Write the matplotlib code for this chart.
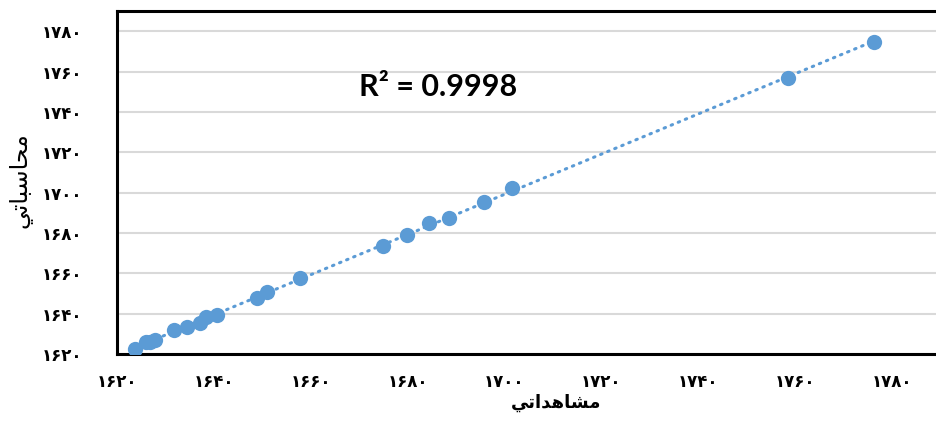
import numpy as np
import matplotlib
matplotlib.use("Agg")
import matplotlib.pyplot as plt
from matplotlib.ticker import FuncFormatter

# مقادیر مشاهداتی و محاسباتی (خوانده شده از نمودار)
observed = [1623.7, 1625.9, 1626.8, 1627.9, 1631.8, 1634.4, 1637.1, 1638.4,
            1640.6, 1648.9, 1650.9, 1657.8, 1674.9, 1680.0, 1684.5, 1688.5,
            1695.8, 1701.6, 1758.7, 1776.3]
computed = [1622.6, 1625.7, 1626.0, 1626.8, 1631.8, 1633.6, 1635.6, 1638.5,
            1639.3, 1647.6, 1650.6, 1657.7, 1673.4, 1679.2, 1684.7, 1687.5,
            1695.2, 1702.1, 1757.0, 1774.5]
tick_values = list(range(1620, 1781, 20))
x_label = "مشاهداتي"
y_label = "محاسباتي"
r2_label = "R² = 0.9998"

BLUE = "#5B9BD5"
FA_DIGITS = "۰۱۲۳۴۵۶۷۸۹"

# presentation forms: (isolated, final, initial, medial)
FORMS = {
    "ا": ("\uFE8D", "\uFE8E", None, None),
    "ب": ("\uFE8F", "\uFE90", "\uFE91", "\uFE92"),
    "ت": ("\uFE95", "\uFE96", "\uFE97", "\uFE98"),
    "ح": ("\uFEA1", "\uFEA2", "\uFEA3", "\uFEA4"),
    "د": ("\uFEA9", "\uFEAA", None, None),
    "س": ("\uFEB1", "\uFEB2", "\uFEB3", "\uFEB4"),
    "ش": ("\uFEB5", "\uFEB6", "\uFEB7", "\uFEB8"),
    "م": ("\uFEE1", "\uFEE2", "\uFEE3", "\uFEE4"),
    "ه": ("\uFEE9", "\uFEEA", "\uFEEB", "\uFEEC"),
    "ي": ("\uFEF1", "\uFEF2", "\uFEF3", "\uFEF4"),
}


def _joins_next(ch):
    return ch in FORMS and FORMS[ch][2] is not None


def shape_rtl(text):
    """Minimal Arabic shaping + reversal, matplotlib does no RTL layout."""
    out = []
    for i, ch in enumerate(text):
        if ch not in FORMS:
            out.append(ch)
            continue
        prev_j = i > 0 and _joins_next(text[i - 1])
        next_j = i + 1 < len(text) and text[i + 1] in FORMS and _joins_next(ch)
        iso, fin, ini, med = FORMS[ch]
        if prev_j and next_j:
            out.append(med)
        elif prev_j:
            out.append(fin)
        elif next_j:
            out.append(ini)
        else:
            out.append(iso)
    return "".join(reversed(out))


def fa_num(v, _pos=None):
    return "".join(FA_DIGITS[int(d)] for d in str(int(round(v))))


plt.rcParams["font.family"] = ["DejaVu Sans"]

fig = plt.figure(figsize=(9.36, 4.24), dpi=100)
ax = fig.add_axes([117 / 936, 70 / 424, 823 / 936, 343 / 424])

ax.set_xlim(1620, 1790)
ax.set_ylim(1620, 1790)
ax.set_xticks(tick_values)
ax.set_yticks(tick_values)
ax.xaxis.set_major_formatter(FuncFormatter(fa_num))
ax.yaxis.set_major_formatter(FuncFormatter(fa_num))
ax.tick_params(length=0, labelsize=12, colors="black")
ax.tick_params(axis="x", pad=14)
ax.tick_params(axis="y", pad=25)
for lbl in ax.get_xticklabels() + ax.get_yticklabels():
    lbl.set_fontweight("bold")

ax.grid(axis="y", color="#d9d9d9", linewidth=1.5)
ax.set_axisbelow(True)
for side in ("left", "top", "bottom", "right"):
    ax.spines[side].set_linewidth(2.2)
    ax.spines[side].set_color("black")

# linear trendline, dotted
coef = np.polyfit(observed, computed, 1)
xs = np.array([min(observed), max(observed)])
ax.plot(xs, np.polyval(coef, xs), color=BLUE, linewidth=2.2,
        linestyle=(0, (0.5, 2.0)), dash_capstyle="round", zorder=2)
ax.plot(observed, computed, "o", color=BLUE, markersize=11,
        markeredgewidth=0, zorder=3)

fig.text(438 / 936, 1 - 87 / 424, r2_label, fontsize=22, fontweight="bold",
         family=["Lato", "DejaVu Sans"], ha="center", va="center")

fig.text(556 / 936, 1 - 403 / 424, shape_rtl(x_label), fontsize=13,
         fontweight="bold", ha="center", va="center")
fig.text(21 / 936, 1 - 180 / 424, shape_rtl(y_label), fontsize=17,
         ha="center", va="center", rotation=90)

fig.savefig("out.png", dpi=100)
